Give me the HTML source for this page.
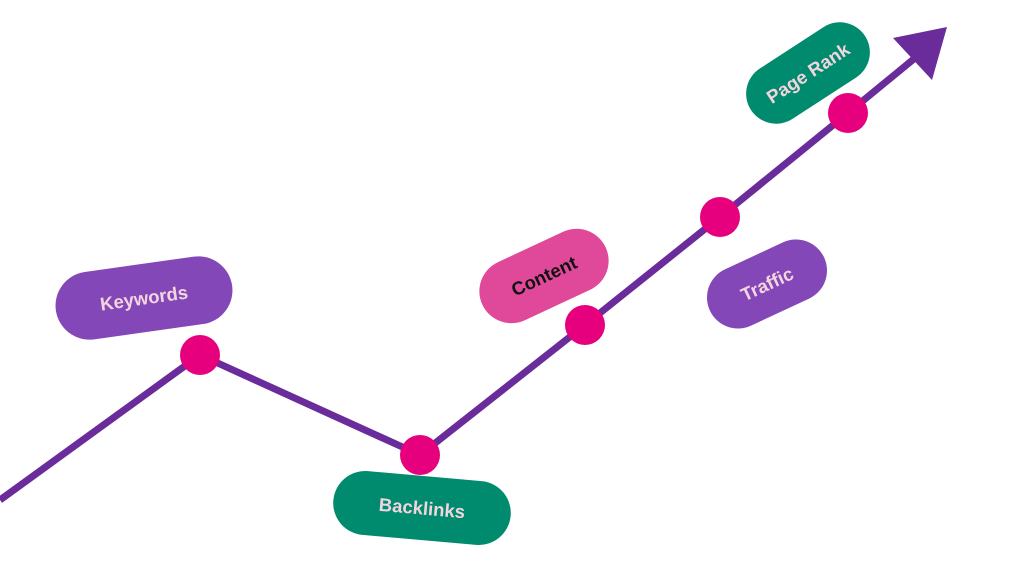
<!DOCTYPE html>
<html><head><style>
html,body{margin:0;padding:0;background:#fff;}
svg{display:block}
text{font-family:"Liberation Sans",sans-serif;font-weight:bold;font-size:18.5px;text-anchor:middle;dominant-baseline:central;}
</style></head><body>
<svg width="1023" height="584" viewBox="0 0 1023 584">
<polyline points="0,500 200,355 420,455 585,325 720,217 848,113 915,58" fill="none" stroke="#6a2c9a" stroke-width="7" stroke-linejoin="round"/>
<polygon points="893,38 947,27 932,80" fill="#6a2c9a"/>
<g fill="#e6007e">
<circle cx="200" cy="355" r="20"/><circle cx="420" cy="455" r="20"/><circle cx="585" cy="325" r="20"/><circle cx="720" cy="217" r="20"/><circle cx="848" cy="113" r="20"/>
</g>
<g transform="translate(144,298) rotate(-8)"><rect x="-89" y="-34" width="178" height="68" rx="34" fill="#8347b7"/><text fill="#f3d5e0">Keywords</text></g>
<g transform="translate(422,508) rotate(5)"><rect x="-89" y="-32" width="178" height="64" rx="32" fill="#008a6e"/><text fill="#f3d5e0">Backlinks</text></g>
<g transform="translate(544,276) rotate(-25)"><rect x="-68" y="-32" width="136" height="64" rx="32" fill="#e0489a"/><text fill="#111">Content</text></g>
<g transform="translate(767,284) rotate(-25)"><rect x="-63" y="-31" width="126" height="62" rx="31" fill="#8347b7"/><text fill="#f3d5e0">Traffic</text></g>
<g transform="translate(808,73) rotate(-33)"><rect x="-68" y="-30" width="136" height="60" rx="30" fill="#008a6e"/><text fill="#f3d5e0">Page Rank</text></g>
</svg>
</body></html>
